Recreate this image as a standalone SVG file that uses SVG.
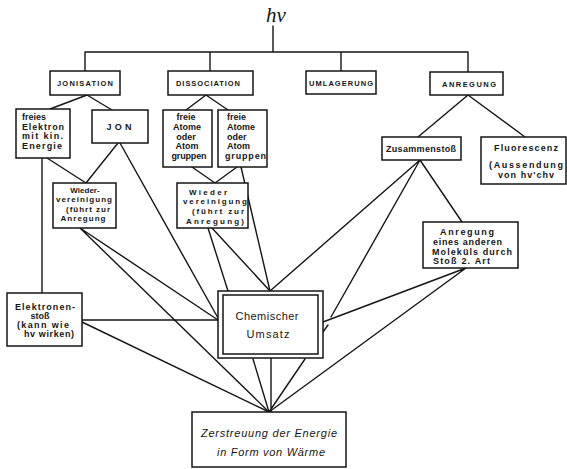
<svg xmlns="http://www.w3.org/2000/svg" width="567" height="469" viewBox="0 0 567 469">
<style>
.bg{fill:#ffffff}
.box{fill:#ffffff;stroke:#151515;stroke-width:1.5}
.ln{fill:none;stroke:#151515;stroke-width:1.4;stroke-linecap:round}
.cap{font-family:"Liberation Sans",Arial,sans-serif;font-size:7.5px;font-weight:bold;fill:#151515;text-anchor:middle}
.t{font-family:"Liberation Sans",Arial,sans-serif;font-size:9px;font-weight:bold;fill:#151515}
.s{font-size:8px}
.c{text-anchor:middle}
.big{font-family:"Liberation Sans",Arial,sans-serif;font-size:11px;fill:#151515;text-anchor:middle}
.hv{font-family:"Liberation Serif","Times New Roman",serif;font-size:21px;font-style:italic;fill:#151515;text-anchor:middle}
</style>
<rect class="bg" x="0" y="0" width="567" height="469"/>
<g id="connectors">
<path class="ln" d="M273,26 V52 M85,52 H468 M85,52 V71 M210,52 V71 M341,52 V71 M468,52 V72"/>
<path class="ln" d="M87,95 L50,109 M87,95 L112,110"/>
<path class="ln" d="M206,95 L186,110 M206,95 L228,110"/>
<path class="ln" d="M468,95 L418,137 M468,95 L525,137"/>
<path class="ln" d="M42,158 V293"/>
<path class="ln" d="M47,158 L86,183 M118,143 L86,183"/>
<path class="ln" d="M120,143 L218,318"/>
<path class="ln" d="M80,228 L269,412 M80,228 L218,320"/>
<path class="ln" d="M192,167 L215,183 M237,167 L215,183"/>
<path class="ln" d="M241,167 L270,291"/>
<path class="ln" d="M208,228 L228,291 M212,228 L270,291"/>
<path class="ln" d="M420,160 L270,291 M420,160 L331,317 M323,332 L328,325"/>
<path class="ln" d="M420,160 L462,222"/>
<path class="ln" d="M82,320 L218,320 M82,322 L269,412"/>
<path class="ln" d="M466,268 L323,322 M466,268 L269,412"/>
<path class="ln" d="M253,359 L269,412 M271,358 V412 M305,359 L269,412"/>
</g>
<g id="hv"><text class="hv" x="276" y="22">hv</text></g>
<g id="jonisation"><rect class="box" x="50" y="71" width="70" height="24"/><text class="cap" x="85" y="86" textLength="56">JONISATION</text></g>
<g id="dissociation"><rect class="box" x="168" y="71" width="85" height="24"/><text class="cap" x="208" y="86" textLength="64">DISSOCIATION</text></g>
<g id="umlagerung"><rect class="box" x="306" y="71" width="70" height="23"/><text class="cap" x="341" y="86" textLength="64">UMLAGERUNG</text></g>
<g id="anregung"><rect class="box" x="430" y="72" width="73" height="23"/><text class="cap" x="469" y="87" textLength="54">ANREGUNG</text></g>
<g id="freies-elektron"><rect class="box" x="16" y="109" width="54" height="49"/>
<text class="t" x="22" y="120">freies</text><text class="t" x="22" y="129.5" textLength="42">Elektron</text><text class="t" x="22" y="139" textLength="41">mit kin.</text><text class="t" x="22" y="149" textLength="40">Energie</text></g>
<g id="jon"><rect class="box" x="92" y="110" width="56" height="33"/><text class="t c" x="119" y="130" font-size="10" textLength="25">JON</text></g>
<g id="freie-atome-1"><rect class="box" x="163" y="110" width="49" height="57"/>
<text class="t c" x="186" y="120">freie</text><text class="t c" x="187" y="130">Atome</text><text class="t c" x="186" y="140">oder</text><text class="t c" x="187" y="149">Atom</text><text class="t c" x="189" y="159" textLength="35">gruppen</text></g>
<g id="freie-atome-2"><rect class="box" x="218" y="110" width="49" height="57"/>
<text class="t" x="227" y="120">freie</text><text class="t" x="227" y="130">Atome</text><text class="t" x="227" y="140">oder</text><text class="t" x="227" y="149">Atom</text><text class="t" x="225" y="159" textLength="41">gruppen</text></g>
<g id="wiedervereinigung-1"><rect class="box" x="53" y="183" width="63" height="45"/>
<text class="t s c" x="85" y="192.5">Wieder-</text><text class="t s c" x="84" y="202" textLength="56">vereinigung</text><text class="t s c" x="88" y="211.5" textLength="44">(führt zur</text><text class="t s c" x="83" y="221" textLength="45">Anregung</text></g>
<g id="wiedervereinigung-2"><rect class="box" x="177" y="183" width="71" height="45"/>
<text class="t s c" x="208" y="194.5" textLength="38">Wieder</text><text class="t s c" x="215" y="204" textLength="64">vereinigung</text><text class="t s c" x="218" y="213.5" textLength="52">(führt zur</text><text class="t s c" x="215" y="223.5" textLength="58">Anregung)</text></g>
<g id="zusammenstoss"><rect class="box" x="382" y="137" width="79" height="23"/><text class="t c" x="421" y="152" font-size="8.5" textLength="70">Zusammenstoß</text></g>
<g id="fluorescenz"><rect class="box" x="481" y="137" width="85" height="47"/>
<text class="t c" x="526" y="151" textLength="64">Fluorescenz</text><text class="t c" x="526" y="168" textLength="74">(Aussendung</text><text class="t c" x="526" y="178" textLength="56">von hv'chv</text></g>
<g id="anregung-molekuel"><rect class="box" x="423" y="222" width="95" height="46"/>
<text class="t" x="440" y="235" textLength="54">Anregung</text><text class="t" x="433" y="245" textLength="69">eines anderen</text><text class="t" x="432" y="254.5" textLength="80">Moleküls durch</text><text class="t" x="433" y="264" textLength="57">Stoß 2. Art</text></g>
<g id="elektronenstoss"><rect class="box" x="7" y="293" width="75" height="53"/>
<text class="t c" x="45" y="310" textLength="60">Elektronen-</text><text class="t c" x="40" y="318.5">stoß</text><text class="t c" x="43" y="327.5" textLength="52">(kann wie</text><text class="t c" x="49" y="337" textLength="50">hv wirken)</text></g>
<g id="chemischer-umsatz"><rect class="box" x="218" y="291" width="105" height="67"/><rect class="box" x="223" y="295" width="95" height="59"/>
<text class="big" x="267" y="320" textLength="63">Chemischer</text><text class="big" x="268" y="338" textLength="43">Umsatz</text></g>
<g id="zerstreuung"><rect class="box" x="192" y="412" width="154" height="55"/>
<text class="big" x="269" y="437" font-style="italic" textLength="136">Zerstreuung der Energie</text><text class="big" x="271" y="456" font-style="italic" textLength="108">in Form von Wärme</text></g>
</svg>
